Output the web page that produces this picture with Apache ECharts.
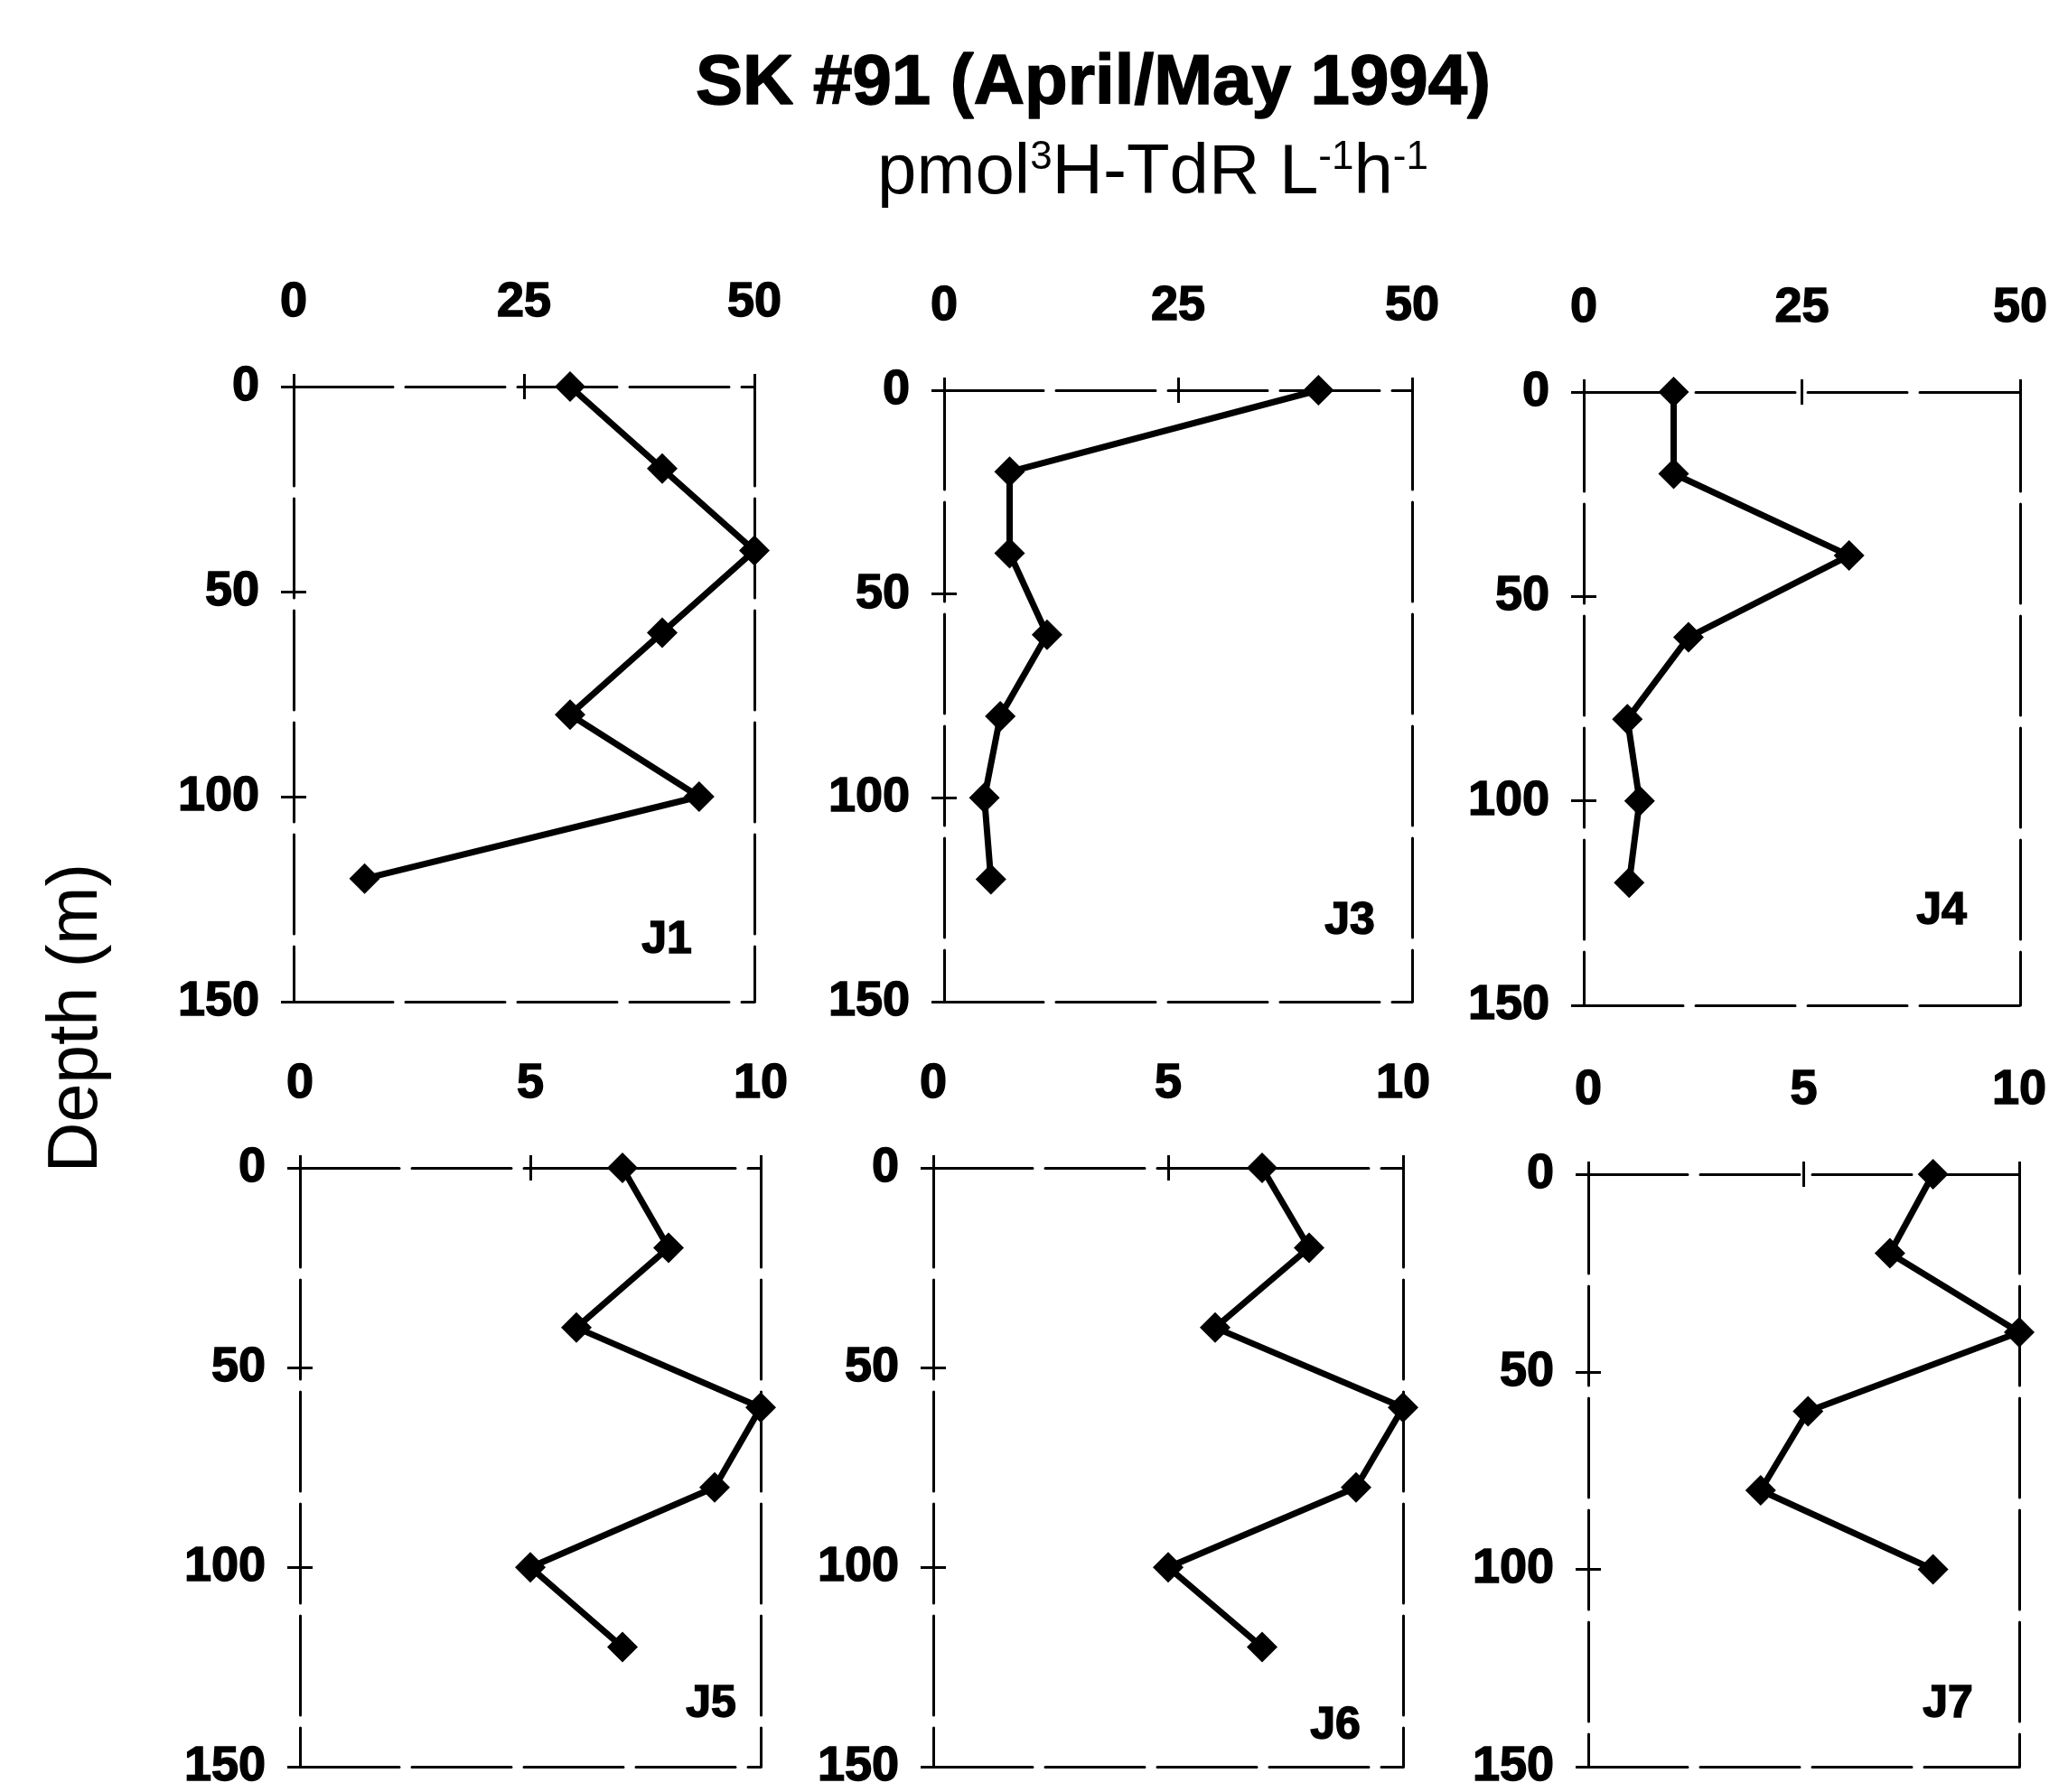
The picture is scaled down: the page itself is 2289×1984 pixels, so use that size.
<!DOCTYPE html>
<html>
<head>
<meta charset="utf-8">
<script src="https://cdn.jsdelivr.net/npm/echarts@6/dist/echarts.min.js"></script>
<style>
html, body { margin: 0; padding: 0; background: #fff; }
#chart { width: 2289px; height: 1984px; }
</style>
</head>
<body>
<div id="chart"></div>
<script>
// depth (m) of each sample
var depths = [0, 20, 40, 60, 80, 100, 120];
var depthsJ7 = [0, 20, 40, 60, 80, 100];

// pmol 3H-TdR L-1 h-1 per station
var j1 = [30, 40, 50, 40, 30, 44, 7.7];
var j3 = [40, 7, 7, 11, 6, 4.3, 5];
var j4 = [10.3, 10.3, 30.4, 12, 5, 6.4, 5.2];
var j5 = [7, 8, 6, 10, 9, 5, 7];
var j6 = [7, 8, 6, 10, 9, 5, 7];
var j7 = [8, 7, 10, 5.1, 4, 8];

var stations = ['J1', 'J3', 'J4', 'J5', 'J6', 'J7'];
var xMax = [50, 50, 50, 10, 10, 10];
var xStep = [25, 25, 25, 5, 5, 5];
var depthMax = 150;
var depthStep = 50;

var values = [j1, j3, j4, j5, j6, j7];
var depthSets = [depths, depths, depths, depths, depths, depthsJ7];

// panel boxes [left, top, width, height]
var boxes = [
    [325, 428, 510, 681],
    [1045, 432, 518, 677],
    [1753, 434, 483, 679],
    [332, 1293, 510, 675],
    [1033, 1293, 520, 679],
    [1758, 1300, 477, 668]
];
// station label centres
var labelPos = [[738, 1041], [1494, 1020], [2149, 1009], [787, 1887], [1478, 1911], [2156, 1887]];

var FONT = "'Liberation Sans', Arial, Helvetica, sans-serif";
var dash = { color: '#000', width: 3, type: [110, 14] };
var heavy = { color: '#000', fontFamily: FONT, fontWeight: 'bold', textBorderColor: '#000', textBorderWidth: 1.5 };

var dom = document.getElementById('chart');
var myChart = echarts.init(dom, null, { renderer: 'canvas' });

var grids = [], xAxes = [], yAxes = [], series = [], graphics = [];

boxes.forEach(function (b, p) {
    grids.push({ left: b[0], top: b[1], width: b[2], height: b[3], containLabel: false });

    // top axis with labels + outer ticks
    xAxes.push({
        gridIndex: p, type: 'value', position: 'top', min: 0, max: xMax[p], interval: xStep[p],
        axisLine: { show: true, onZero: false, lineStyle: dash },
        axisTick: { show: true, length: 14, lineStyle: { color: '#000', width: 3 } },
        axisLabel: Object.assign({ margin: 66, fontSize: 54 }, heavy),
        splitLine: { show: false }
    });
    // inner ticks -> crosses
    xAxes.push({
        gridIndex: p, type: 'value', position: 'top', min: 0, max: xMax[p], interval: xStep[p],
        axisLine: { show: false, onZero: false },
        axisTick: { show: true, inside: true, length: 14, lineStyle: { color: '#000', width: 3 } },
        axisLabel: { show: false }, splitLine: { show: false }
    });
    // bottom frame line
    xAxes.push({
        gridIndex: p, type: 'value', position: 'bottom', min: 0, max: xMax[p], interval: xStep[p],
        axisLine: { show: true, onZero: false, lineStyle: dash },
        axisTick: { show: false }, axisLabel: { show: false }, splitLine: { show: false }
    });

    yAxes.push({
        gridIndex: p, type: 'value', position: 'left', inverse: true, min: 0, max: depthMax, interval: depthStep,
        axisLine: { show: true, onZero: false, lineStyle: dash },
        axisTick: { show: true, length: 14, lineStyle: { color: '#000', width: 3 } },
        axisLabel: Object.assign({ margin: 38, fontSize: 54 }, heavy),
        splitLine: { show: false }
    });
    yAxes.push({
        gridIndex: p, type: 'value', position: 'left', inverse: true, min: 0, max: depthMax, interval: depthStep,
        axisLine: { show: false, onZero: false },
        axisTick: { show: true, inside: true, length: 14, lineStyle: { color: '#000', width: 3 } },
        axisLabel: { show: false }, splitLine: { show: false }
    });
    yAxes.push({
        gridIndex: p, type: 'value', position: 'right', inverse: true, min: 0, max: depthMax, interval: depthStep,
        axisLine: { show: true, onZero: false, lineStyle: dash },
        axisTick: { show: false }, axisLabel: { show: false }, splitLine: { show: false }
    });

    series.push({
        name: stations[p],
        type: 'line',
        xAxisIndex: p * 3,
        yAxisIndex: p * 3,
        data: depthSets[p].map(function (d, i) { return [values[p][i], d]; }),
        symbol: 'diamond',
        symbolSize: 34,
        lineStyle: { color: '#000', width: 7 },
        itemStyle: { color: '#000' },
        z: 5
    });

    graphics.push({
        type: 'text', x: labelPos[p][0], y: labelPos[p][1],
        style: { text: stations[p], fontSize: 50, fontWeight: 'bold', fontFamily: FONT, fill: '#000',
                 stroke: '#000', lineWidth: 1.5, align: 'center', verticalAlign: 'middle' }
    });
});

graphics.push({
    type: 'text', x: 1210, y: 93,
    style: { text: 'SK #91 (April/May 1994)', fontSize: 78, fontWeight: 'bold', fontFamily: FONT, fill: '#000',
             stroke: '#000', lineWidth: 1.5, align: 'center', verticalAlign: 'middle' }
});
graphics.push({
    type: 'text', x: 1276, y: 192,
    style: {
        text: 'pmol{s|3}H-TdR L{s|-1}h{s|-1}', fontSize: 78, fontFamily: FONT, fill: '#000',
        align: 'center', verticalAlign: 'middle',
        rich: { s: { fontSize: 44, fontFamily: FONT, fill: '#000', verticalAlign: 'top', lineHeight: 44 } }
    }
});
graphics.push({
    type: 'text', x: 86, y: 1127, rotation: Math.PI / 2,
    style: { text: 'Depth (m)', fontSize: 77, fontFamily: FONT, fill: '#000', align: 'center', verticalAlign: 'middle' }
});

var option = {
    backgroundColor: '#fff',
    animation: false,
    grid: grids,
    xAxis: xAxes,
    yAxis: yAxes,
    series: series,
    graphic: graphics
};

if (option && typeof option === 'object') {
    myChart.setOption(option, true);
}
</script>
</body>
</html>
